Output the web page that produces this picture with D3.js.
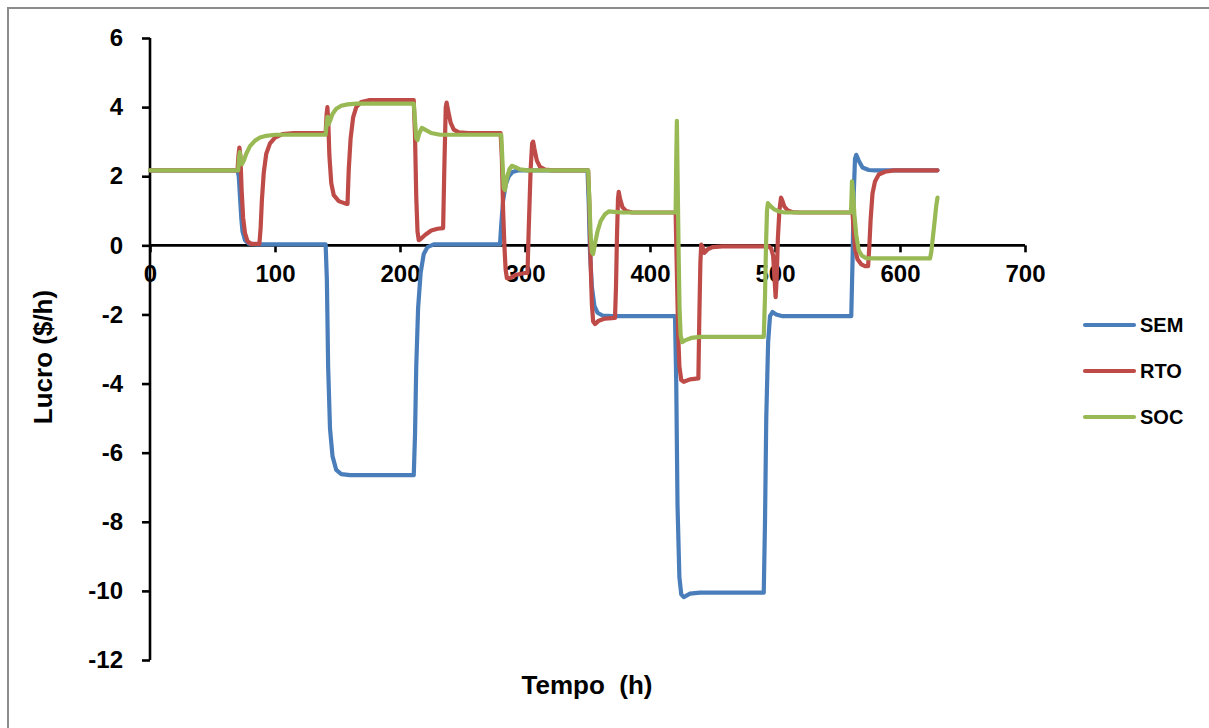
<!DOCTYPE html>
<html>
<head>
<meta charset="utf-8">
<script src="https://cdn.jsdelivr.net/npm/d3@7"></script>
<style>
  html, body { margin: 0; padding: 0; background: #fff; }
  svg { display: block; }
  text { font-family: "Liberation Sans", Arial, sans-serif; font-weight: bold; fill: #000; }
</style>
</head>
<body>
<svg id="chart" width="1209" height="728"></svg>
<script>
// ---- data (time in h, profit in $/h) ----
const seriesNames = ["SEM", "RTO", "SOC"];
const seriesColors = ["#4a7ebb", "#be4b48", "#98b954"];
const xTicks = [0, 100, 200, 300, 400, 500, 600, 700];
const yTicks = [-12, -10, -8, -6, -4, -2, 0, 2, 4, 6];

const semData = [[0,2.17],[70,2.17],[71,2.0],[72,1.4],[73,0.8],[74,0.4],[76,0.15],[79,0.05],[85,0.03],[140.5,0.03],[141.5,-1.0],[142.5,-3.5],[144,-5.3],[146,-6.1],[149,-6.5],[153,-6.62],[160,-6.65],[211,-6.65],[212,-5.5],[213,-3.5],[214.5,-1.8],[216.5,-0.8],[219,-0.25],[222,-0.05],[227,0.03],[280,0.03],[281,0.6],[282.5,1.3],[284.5,1.75],[287,2.0],[290,2.12],[295,2.17],[350,2.17],[351,1.2],[352,-0.2],[353.5,-1.2],[355.5,-1.75],[358,-1.95],[362,-2.03],[370,-2.05],[420,-2.05],[421,-4],[422,-7.5],[423.5,-9.6],[425,-10.1],[427,-10.18],[432,-10.08],[440,-10.05],[491,-10.05],[492,-8],[493,-5],[494.5,-2.8],[496,-2.05],[498,-1.93],[501,-2.0],[506,-2.05],[561,-2.05],[562,-0.5],[563,1.5],[564,2.5],[565,2.62],[567,2.45],[570,2.25],[575,2.18],[580,2.17],[630,2.17]];

const rtoData = [[0,2.17],[70,2.17],[70.8,2.6],[71.5,2.83],[72.3,2.6],[73.3,1.6],[74.5,0.8],[76,0.35],[78,0.12],[81,0.04],[87.5,0.04],[88.5,0.5],[89.5,1.3],[91,2.1],[93,2.65],[96,2.95],[100,3.12],[106,3.22],[115,3.25],[140.5,3.25],[141.3,3.8],[141.9,4.0],[142.6,3.6],[143.5,2.6],[145,1.8],[147,1.45],[151,1.28],[157,1.2],[158,1.2],[159,2.2],[160.5,3.1],[162.5,3.7],[165,4.0],[169,4.15],[175,4.2],[211,4.2],[212,3.2],[213,1.4],[214,0.4],[215,0.15],[217,0.2],[220,0.3],[225,0.43],[230,0.48],[234.5,0.5],[235.5,2.3],[236.6,4.0],[237.3,4.13],[238.5,3.9],[240.5,3.55],[243,3.35],[247,3.27],[255,3.25],[280.5,3.25],[281.5,2.5],[282.5,1.0],[283.5,0],[284.5,-0.7],[285.5,-0.95],[288,-0.95],[293,-0.85],[300,-0.8],[302,-0.8],[303,0.5],[304.5,2.2],[305.7,2.95],[306.5,3.0],[307.5,2.8],[309.5,2.45],[312,2.27],[316,2.19],[322,2.17],[350.5,2.17],[351.5,1.2],[352.5,-0.5],[353.5,-1.7],[354.5,-2.2],[356,-2.28],[359,-2.18],[364,-2.12],[372,-2.1],[372.8,-1.2],[373.6,0.3],[374.4,1.35],[375,1.55],[376,1.35],[378,1.1],[381,0.99],[386,0.95],[420.5,0.95],[421.5,-0.8],[422.5,-2.5],[423.5,-3.5],[425,-3.9],[427,-3.95],[432,-3.88],[438.7,-3.85],[439.5,-2],[440.3,-0.5],[441,0.02],[442,-0.05],[443.5,-0.22],[446,-0.12],[450,-0.05],[458,-0.03],[495,-0.03],[497,-0.1],[498.5,-0.3],[499.5,-0.9],[500.5,-1.5],[501.3,-1.0],[502.3,0.2],[503.5,1.0],[504.8,1.38],[505.8,1.3],[507.5,1.12],[510,1.02],[514,0.96],[520,0.95],[562,0.95],[563,0.4],[564,-0.1],[566,-0.4],[569,-0.55],[572,-0.6],[574.5,-0.6],[575.5,0],[576.5,0.75],[578,1.5],[580,1.85],[583,2.05],[588,2.13],[595,2.17],[630,2.17]];

const socData = [[0,2.17],[70.5,2.17],[71.3,2.55],[71.8,2.7],[72.5,2.5],[73.5,2.35],[75,2.45],[77,2.65],[80,2.87],[84,3.03],[88,3.12],[93,3.17],[100,3.2],[140.5,3.2],[141.5,3.6],[142,3.72],[142.8,3.5],[144,3.6],[146,3.8],[149,3.95],[153,4.04],[158,4.08],[165,4.1],[211,4.1],[212,3.6],[213,3.1],[214,3.05],[215.5,3.25],[217.5,3.4],[220,3.35],[225,3.25],[232,3.2],[281,3.2],[282,2.4],[283,1.65],[284,1.6],[285.5,1.95],[287.5,2.2],[289.5,2.3],[292,2.27],[296,2.2],[302,2.17],[350.5,2.17],[351.5,1.3],[352.5,0.3],[353.5,-0.2],[354.5,-0.25],[356,0.05],[358,0.4],[360.5,0.7],[364,0.9],[367,0.98],[371,0.97],[378,0.95],[420.5,0.95],[421,2.5],[421.5,3.6],[422,2.2],[422.8,0],[423.6,-1.8],[424.5,-2.6],[425.7,-2.8],[428,-2.75],[433,-2.68],[440,-2.65],[491,-2.65],[492,-1.5],[492.8,0],[493.6,1.0],[494.3,1.22],[496,1.15],[499,1.05],[503,0.98],[508,0.95],[560.8,0.95],[561.6,1.85],[562.5,1.5],[563.5,0.9],[565,0.3],[567,-0.15],[569.5,-0.3],[573,-0.37],[580,-0.38],[624,-0.38],[625,-0.2],[626.5,0.3],[628,0.8],[629,1.15],[630,1.38]];

const allSeries = [semData, rtoData, socData];

// ---- drawing ----
const svg = d3.select("#chart");

// outer frame
svg.append("rect")
  .attr("x", 8).attr("y", 8).attr("width", 1220).attr("height", 740)
  .attr("fill", "none").attr("stroke", "#8c8c8c").attr("stroke-width", 2);

const x = d3.scaleLinear().domain([0, 700]).range([150, 1025]);
const y = d3.scaleLinear().domain([-12, 6]).range([660, 38]);

// y axis
const yAxis = svg.append("g")
  .attr("transform", `translate(${x(0)},0)`)
  .call(d3.axisLeft(y).tickValues(yTicks).tickFormat(d => String(d)).tickSize(8).tickPadding(19));
yAxis.select(".domain").attr("stroke", "#000").attr("stroke-width", 2.6).attr("d", `M0,${y(6)}V${y(-12)}`);
yAxis.selectAll(".tick line").attr("stroke", "#000").attr("stroke-width", 2.6);
yAxis.selectAll(".tick text").style("font-size", "24px").style("font-family", "'Liberation Sans', Arial, sans-serif").style("font-weight", "bold").attr("fill", "#000");

// x axis at y = 0
const xAxis = svg.append("g")
  .attr("transform", `translate(0,${y(0)})`)
  .call(d3.axisBottom(x).tickValues(xTicks).tickFormat(d => String(d)).tickSize(7).tickPadding(13));
xAxis.select(".domain").attr("stroke", "#000").attr("stroke-width", 2.6).attr("d", `M${x(0)},0H${x(700)}`);
xAxis.selectAll(".tick line").attr("stroke", "#000").attr("stroke-width", 2.6);
xAxis.selectAll(".tick text").style("font-size", "24px").style("font-family", "'Liberation Sans', Arial, sans-serif").style("font-weight", "bold").attr("fill", "#000");

// series lines
const line = d3.line().x(d => x(d[0])).y(d => y(d[1]));
allSeries.forEach((data, i) => {
  svg.append("path")
    .datum(data)
    .attr("fill", "none")
    .attr("stroke", seriesColors[i])
    .attr("stroke-width", 4.2)
    .attr("stroke-linejoin", "round")
    .attr("stroke-linecap", "round")
    .attr("d", line);
});

// axis titles
svg.append("text")
  .attr("x", 587).attr("y", 694)
  .attr("text-anchor", "middle")
  .style("font-size", "26px")
  .style("white-space", "pre")
  .text("Tempo  (h)");

svg.append("text")
  .attr("transform", "translate(52,357) rotate(-90)")
  .attr("text-anchor", "middle")
  .style("font-size", "26px")
  .text("Lucro ($/h)");

// legend
const legendY = [325, 371, 417];
seriesNames.forEach((name, i) => {
  svg.append("line")
    .attr("x1", 1085).attr("x2", 1134)
    .attr("y1", legendY[i]).attr("y2", legendY[i])
    .attr("stroke", seriesColors[i]).attr("stroke-width", 4.2)
    .attr("stroke-linecap", "round");
  svg.append("text")
    .attr("x", 1140).attr("y", legendY[i] + 7)
    .style("font-size", "20px")
    .text(name);
});
</script>
</body>
</html>
